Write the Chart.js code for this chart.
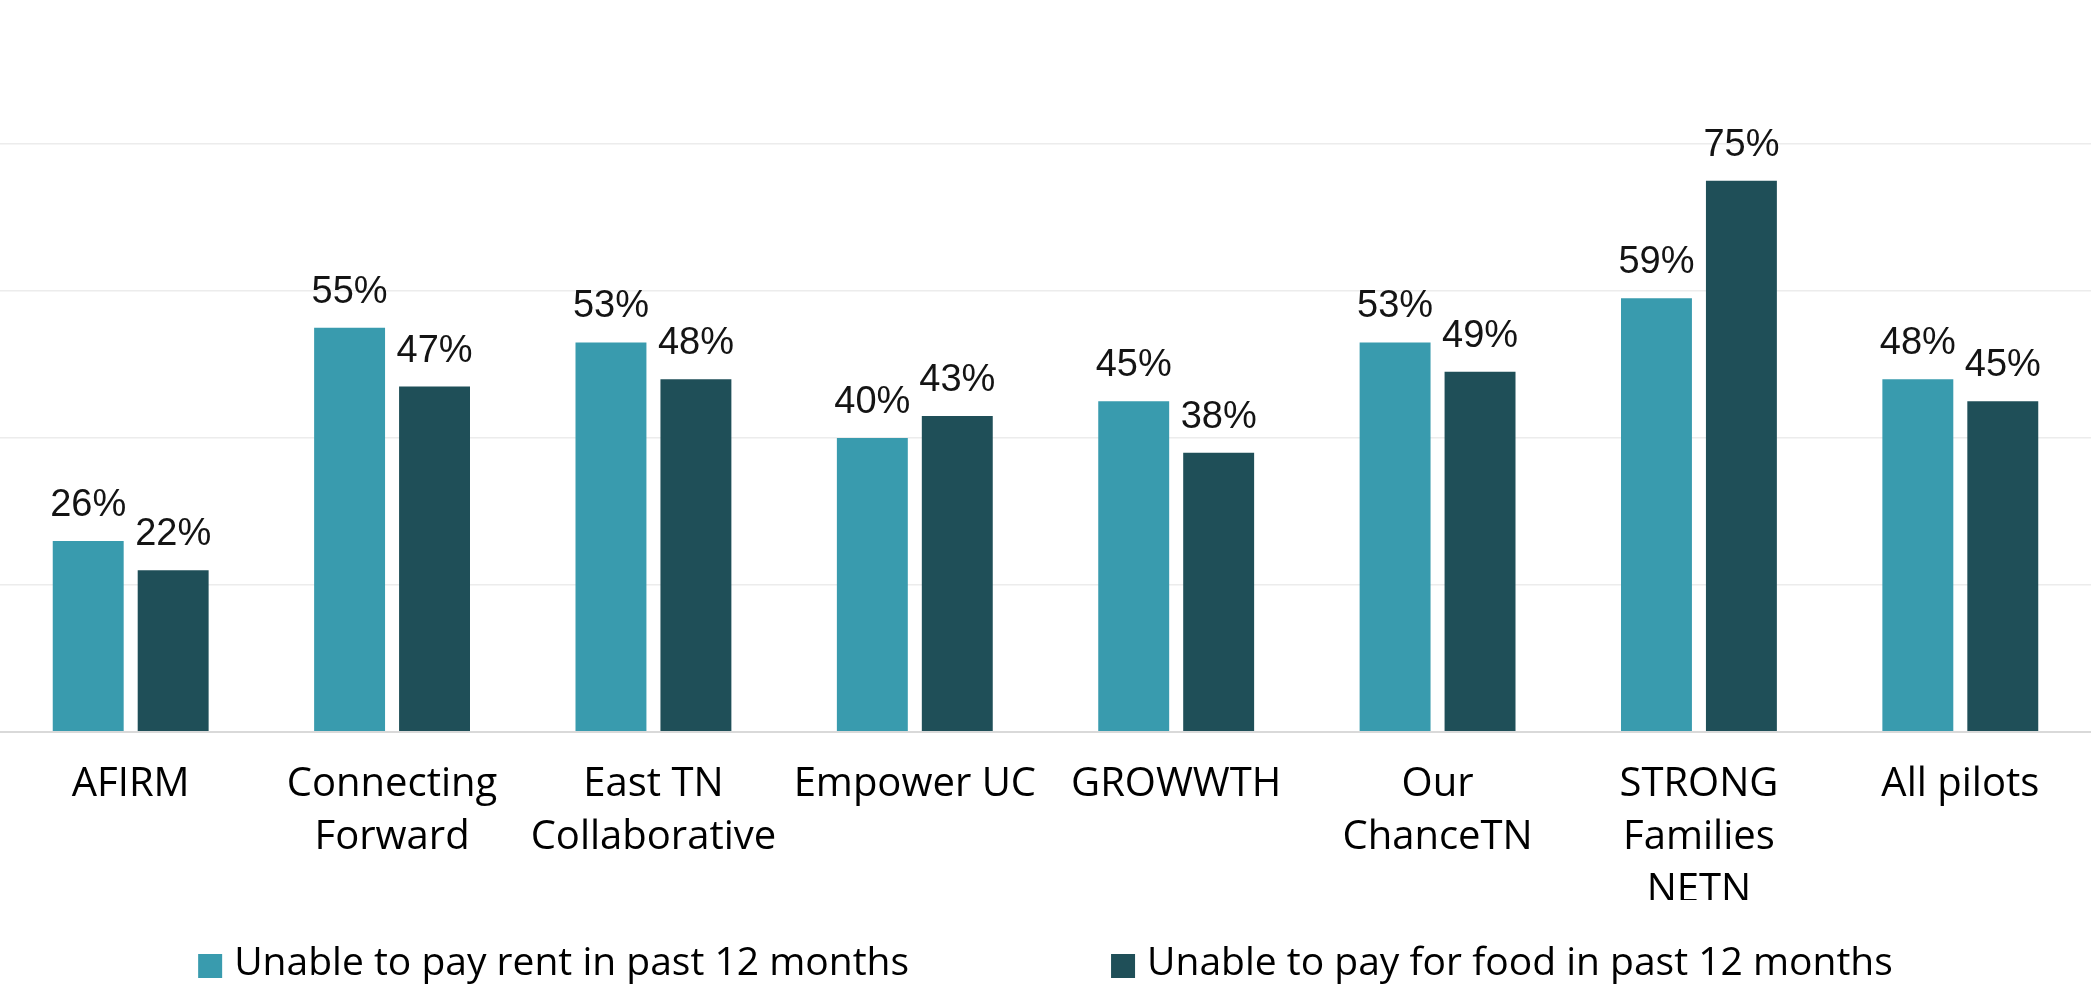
<!DOCTYPE html>
<html>
<head>
<meta charset="utf-8">
<script src="https://cdn.jsdelivr.net/npm/chart.js@4"></script>
<style>
  html, body { margin: 0; padding: 0; background: #fff; }
  #wrap { width: 2091px; height: 987px; position: relative; }
</style>
</head>
<body>
<div id="wrap"><canvas id="chart"></canvas></div>
<script>
//-----------------------------------------
// DATA
//-----------------------------------------
const categories = [
  "AFIRM",
  ["Connecting", "Forward"],
  ["East TN", "Collaborative"],
  "Empower UC",
  "GROWWTH",
  ["Our", "ChanceTN"],
  ["STRONG", "Families", "NETN"],
  "All pilots"
];

const rentLabel = "Unable to pay rent in past 12 months";
const foodLabel = "Unable to pay for food in past 12 months";

const rentValues = [26, 55, 53, 40, 45, 53, 59, 48];
const foodValues = [22, 47, 48, 43, 38, 49, 75, 45];

const yTicks = [0, 20, 40, 60, 80];

const TEAL = "#399BAE";
const DARK = "#1F4F58";

//-----------------------------------------
// VALUE LABELS ABOVE BARS
//-----------------------------------------
const barLabels = {
  id: "barLabels",
  afterDatasetsDraw(chart) {
    const ctx = chart.ctx;
    ctx.save();
    ctx.font = '38px "Liberation Sans", Arial, sans-serif';
    ctx.fillStyle = "#141414";
    ctx.textAlign = "center";
    ctx.textBaseline = "alphabetic";
    chart.data.datasets.forEach((ds, i) => {
      chart.getDatasetMeta(i).data.forEach((bar, j) => {
        ctx.fillText(ds.data[j] + "%", bar.x, bar.y - 25);
      });
    });
    ctx.restore();
  }
};

//-----------------------------------------
// LEGEND (wide gap between items)
//-----------------------------------------
const bottomLegend = {
  id: "bottomLegend",
  afterDraw(chart) {
    const ctx = chart.ctx;
    const box = 24, gapText = 12, gapItem = 202;
    ctx.save();
    ctx.font = '39px "Open Sans", sans-serif';
    const items = chart.data.datasets.map(ds => ({
      text: ds.label,
      color: ds.backgroundColor,
      w: ctx.measureText(ds.label).width
    }));
    let total = 0;
    items.forEach((it, i) => {
      total += box + gapText + it.w + (i ? gapItem : 0);
    });
    let x = chart.width / 2 - total / 2;
    const baseY = 975;
    ctx.textAlign = "left";
    ctx.textBaseline = "alphabetic";
    items.forEach(it => {
      ctx.fillStyle = it.color;
      ctx.fillRect(x, baseY - 21, box, box);
      ctx.fillStyle = "#000";
      ctx.fillText(it.text, x + box + gapText, baseY);
      x += box + gapText + it.w + gapItem;
    });
    ctx.restore();
  }
};

//-----------------------------------------
// CHART
//-----------------------------------------
new Chart(document.getElementById("chart"), {
  type: "bar",
  data: {
    labels: categories,
    datasets: [
      {
        label: rentLabel,
        data: rentValues,
        backgroundColor: TEAL,
        categoryPercentage: 0.65,
        barPercentage: 0.835
      },
      {
        label: foodLabel,
        data: foodValues,
        backgroundColor: DARK,
        categoryPercentage: 0.65,
        barPercentage: 0.835
      }
    ]
  },
  options: {
    responsive: true,
    maintainAspectRatio: false,
    animation: false,
    layout: { padding: { top: 144, bottom: 87, left: 0, right: 0 } },
    plugins: {
      legend: { display: false },
      tooltip: { enabled: false }
    },
    scales: {
      x: {
        grid: { display: false },
        border: { display: false },
        ticks: {
          color: "#000",
          padding: 18,
          maxRotation: 0,
          autoSkip: false,
          font: { family: '"Open Sans", sans-serif', size: 40, lineHeight: 1.33 }
        },
        afterFit(scale) { scale.height = 168; }
      },
      y: {
        min: yTicks[0],
        max: yTicks[yTicks.length - 1],
        afterBuildTicks(scale) { scale.ticks = yTicks.map(v => ({ value: v })); },
        ticks: { display: false },
        border: { display: false },
        grid: {
          drawTicks: false,
          color: c => (c.tick && c.tick.value === 0 ? "#d9d9d9" : "#ececec"),
          lineWidth: c => (c.tick && c.tick.value === 0 ? 2 : 1.5)
        }
      }
    }
  },
  plugins: [barLabels, bottomLegend]
});
</script>
</body>
</html>
